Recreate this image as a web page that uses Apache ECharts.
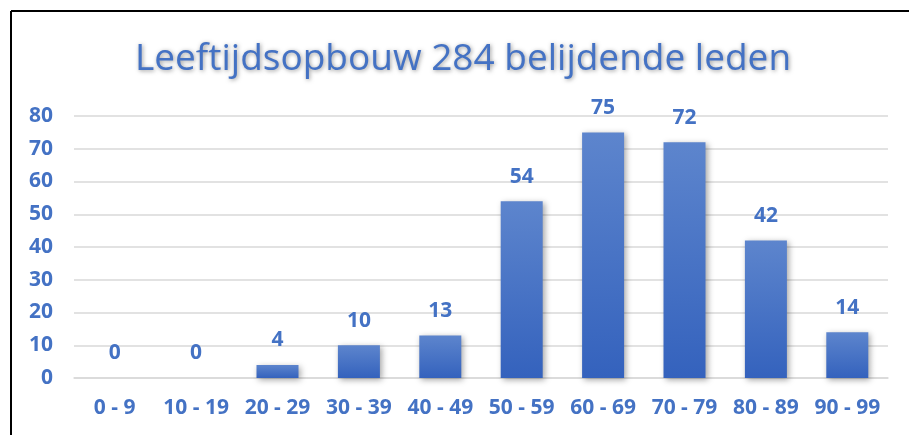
<!DOCTYPE html>
<html>
<head>
<meta charset="utf-8">
<script src="https://cdn.jsdelivr.net/npm/echarts@6/dist/echarts.min.js"></script>
<style>
html,body{margin:0;padding:0;background:#fff;}
#c{width:909px;height:435px;}
</style>
</head>
<body>
<div id="c"></div>
<script>
var categories = ['0 - 9','10 - 19','20 - 29','30 - 39','40 - 49','50 - 59','60 - 69','70 - 79','80 - 89','90 - 99'];
var counts = [0, 0, 4, 10, 13, 54, 75, 72, 42, 14];
var titleText = 'Leeftijdsopbouw 284 belijdende leden';

var blue = '#4472C4';
var chart = echarts.init(document.getElementById('c'), null, {renderer:'canvas'});
chart.setOption({
  backgroundColor: '#fff',
  animation: false,
  title: {
    text: titleText,
    left: 130,
    top: 36,
    textStyle: {
      color: blue,
      fontFamily: 'Open Sans',
      fontWeight: 'normal',
      fontSize: 37,
      textShadowColor: 'rgba(0,0,0,0.4)',
      textShadowBlur: 4,
      textShadowOffsetX: 1,
      textShadowOffsetY: 1
    }
  },
  grid: {left: 74, right: 21, top: 116, bottom: 57, containLabel: false},
  xAxis: {
    type: 'category',
    data: categories,
    axisLine: {show: true, lineStyle: {color: '#d9d9d9', width: 1.5}},
    axisTick: {show: false},
    axisLabel: {interval: 0, color: blue, fontFamily: 'Open Sans', fontWeight: 'bold', fontSize: 21, margin: 20}
  },
  yAxis: {
    type: 'value',
    min: 0, max: 80, interval: 10,
    axisLine: {show: false},
    axisTick: {show: false},
    splitLine: {lineStyle: {color: '#d9d9d9', width: 1.5}},
    axisLabel: {color: blue, fontFamily: 'Open Sans', fontWeight: 'bold', fontSize: 21, margin: 21}
  },
  series: [{
    type: 'bar',
    data: counts,
    barWidth: 42,
    itemStyle: {
      color: new echarts.graphic.LinearGradient(0, 0, 0, 1, [
        {offset: 0, color: '#5d85cd'},
        {offset: 1, color: '#3462bd'}
      ]),
      shadowColor: 'rgba(0,0,0,0.35)',
      shadowBlur: 6,
      shadowOffsetX: 2,
      shadowOffsetY: 2
    },
    label: {
      show: true,
      position: 'top',
      distance: 14,
      color: blue,
      fontFamily: 'Open Sans',
      fontWeight: 'bold',
      fontSize: 21
    }
  }],
  graphic: [
    {type: 'line', shape: {x1: 11, y1: 11, x2: 909, y2: 11}, style: {stroke: '#000', lineWidth: 2}},
    {type: 'line', shape: {x1: 11, y1: 11, x2: 11, y2: 435}, style: {stroke: '#000', lineWidth: 2}}
  ]
});
</script>
</body>
</html>
